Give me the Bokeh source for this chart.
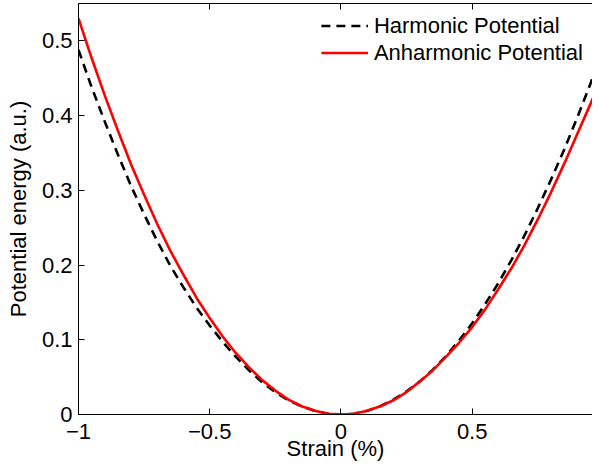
from bokeh.plotting import figure
from bokeh.models import Range1d, LinearAxis, FixedTicker, Legend, LegendItem
from bokeh.embed import file_html
from bokeh.resources import INLINE

# ---- data ----
strain = [-1.00, -0.95, -0.90, -0.85, -0.80, -0.75, -0.70, -0.65, -0.60, -0.55, -0.50,
          -0.45, -0.40, -0.35, -0.30, -0.25, -0.20, -0.15, -0.10, -0.05, 0.00,
          0.05, 0.10, 0.15, 0.20, 0.25, 0.30, 0.35, 0.40, 0.45, 0.50,
          0.55, 0.60, 0.65, 0.70, 0.75, 0.80, 0.85, 0.90, 0.95, 1.00]
harmonic = [0.488, 0.438, 0.392, 0.348, 0.306, 0.268, 0.232, 0.199, 0.170, 0.143, 0.119,
            0.097, 0.077, 0.059, 0.043, 0.030, 0.019, 0.011, 0.005, 0.001, 0.000,
            0.001, 0.005, 0.011, 0.020, 0.031, 0.044, 0.060, 0.078, 0.099, 0.122,
            0.148, 0.176, 0.207, 0.240, 0.276, 0.314, 0.354, 0.397, 0.442, 0.490]
anharmonic = [0.530, 0.477, 0.427, 0.380, 0.335, 0.294, 0.255, 0.219, 0.187, 0.156, 0.129,
              0.104, 0.082, 0.063, 0.046, 0.032, 0.020, 0.011, 0.005, 0.001, 0.000,
              0.001, 0.005, 0.011, 0.019, 0.030, 0.044, 0.059, 0.077, 0.096, 0.117,
              0.141, 0.168, 0.196, 0.227, 0.261, 0.297, 0.335, 0.375, 0.415, 0.456]

x_ticks = [-1.0, -0.5, 0.0, 0.5, 1.0]
x_tick_labels = ["\u22121", "\u22120.5", "0", "0.5", "1"]
y_ticks = [0.0, 0.1, 0.2, 0.3, 0.4, 0.5]
y_tick_labels = ["0", "0.1", "0.2", "0.3", "0.4", "0.5"]

x_label = "Strain (%)"
y_label = "Potential energy (a.u.)"
series_names = ["Harmonic Potential", "Anharmonic Potential"]

FONT = "Liberation Sans"
FS = "22px"

p = figure(width=592, height=464,
           x_range=Range1d(-1.0, 0.9585), y_range=Range1d(0.0, 0.55),
           output_backend="svg", toolbar_location=None,
           min_border_left=78, min_border_right=0, min_border_top=3, min_border_bottom=50)
p.outline_line_color = None
p.grid.visible = False
p.background_fill_color = "white"

r1 = p.line(strain, harmonic, line_color="black", line_width=2.6, line_dash="9 6")
r2 = p.line(strain, anharmonic, line_color="#ff0000", line_width=2.6)

def style_axis(ax, ticks, labels, show_labels=True, show_line=True):
    ax.ticker = FixedTicker(ticks=ticks)
    ax.major_label_overrides = {t: l for t, l in zip(ticks, labels)}
    ax.minor_tick_line_color = None
    ax.major_tick_in = 6
    ax.major_tick_out = 0
    ax.major_tick_line_color = "black"
    ax.axis_line_color = "black" if show_line else None
    ax.axis_line_width = 1
    ax.major_label_text_font = FONT
    ax.major_label_text_color = "black"
    if show_labels:
        ax.major_label_text_font_size = FS
    else:
        ax.major_label_text_font_size = "0px"
        ax.major_label_standoff = 0

style_axis(p.xaxis[0], x_ticks, x_tick_labels)
style_axis(p.yaxis[0], y_ticks, y_tick_labels)
p.xaxis[0].major_label_standoff = 9
p.yaxis[0].major_label_standoff = 6
for ax in (p.xaxis[0], p.yaxis[0]):
    ax.axis_label_text_font = FONT
    ax.axis_label_text_font_size = FS
    ax.axis_label_text_font_style = "normal"
    ax.axis_label_text_color = "black"
p.xaxis[0].axis_label = x_label
p.yaxis[0].axis_label = y_label
p.xaxis[0].axis_label_standoff = -6
p.yaxis[0].axis_label_standoff = 8

top = LinearAxis()
style_axis(top, x_ticks, ["" for _ in x_ticks], show_labels=False)
p.add_layout(top, "above")

legend = Legend(items=[LegendItem(label=series_names[0], renderers=[r1]),
                       LegendItem(label=series_names[1], renderers=[r2])],
                location="top_right", margin=9, padding=0, spacing=0,
                glyph_width=47, glyph_height=27, label_height=27,
                label_standoff=6, border_line_color=None, background_fill_alpha=0,
                label_text_font=FONT, label_text_font_size=FS, label_text_color="black")
p.add_layout(legend)

open("out.html", "w").write(file_html(p, INLINE))
